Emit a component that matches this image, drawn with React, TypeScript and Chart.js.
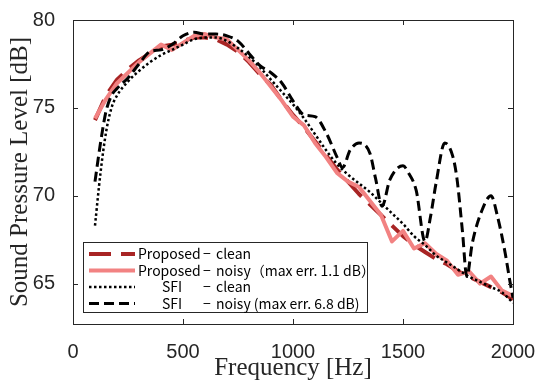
import { useEffect, useRef } from 'react';
import { Chart, registerables } from 'chart.js';

Chart.register(...registerables);

// ---- data ----
const FREQ = [100, 150, 200, 250, 300, 350, 400, 450, 500, 550, 600, 650, 700, 750, 800, 850, 900, 950, 1000, 1050, 1100, 1150, 1200, 1250, 1300, 1350, 1400, 1450, 1500, 1550, 1600, 1650, 1700, 1750, 1800, 1850, 1900, 1950, 2000];

const PROPOSED_CLEAN = [74.3, 75.7, 76.6, 77.2, 77.7, 78.1, 78.5, 78.6, 78.8, 79.0, 79.0, 78.9, 78.6, 78.2, 77.6, 76.9, 76.3, 75.4, 74.6, 73.9, 73.1, 72.3, 71.5, 70.8, 70.1, 69.5, 68.9, 68.3, 67.7, 67.2, 66.8, 66.4, 66.1, 65.7, 65.4, 65.1, 64.8, 64.5, 64.1];

const PROPOSED_NOISY = [74.4, 75.5, 76.4, 77.0, 77.6, 78.1, 78.6, 78.3, 78.7, 79.1, 79.2, 79.0, 78.9, 78.3, 77.7, 77.0, 76.2, 75.4, 74.5, 74.0, 73.0, 72.2, 71.3, 70.8, 70.5, 69.7, 68.9, 67.4, 68.0, 67.0, 67.3, 66.7, 66.3, 65.5, 65.7, 65.0, 65.4, 64.6, 64.3];

const SFI_CLEAN_FREQ = [100, 125, 150, 175, 200, 250, 300, 350, 400, 450, 500, 550, 600, 650, 700, 750, 800, 850, 900, 950, 1000, 1050, 1100, 1150, 1200, 1250, 1300, 1350, 1400, 1450, 1500, 1550, 1600, 1650, 1700, 1750, 1800, 1850, 1900, 1950, 2000];
const SFI_CLEAN = [68.3, 71.3, 73.6, 75.0, 75.7, 76.5, 77.1, 77.6, 78.0, 78.3, 78.6, 78.9, 79.0, 79.0, 78.8, 78.4, 77.9, 77.3, 76.6, 75.9, 75.2, 74.4, 73.5, 72.6, 71.8, 71.2, 70.7, 70.2, 69.6, 69.0, 68.4, 67.7, 67.2, 66.6, 66.2, 65.8, 65.4, 65.1, 64.8, 64.5, 63.9];

const SFI_NOISY_FREQ = [100, 125, 150, 175, 200, 250, 300, 350, 400, 450, 500, 550, 600, 650, 700, 750, 800, 850, 900, 950, 1000, 1050, 1100, 1150, 1200, 1225, 1260, 1300, 1350, 1375, 1405, 1440, 1500, 1525, 1560, 1600, 1625, 1650, 1690, 1725, 1745, 1770, 1790, 1815, 1860, 1900, 1930, 1965, 1985, 2000];
const SFI_NOISY = [70.8, 73.0, 74.8, 75.7, 76.1, 76.7, 77.5, 78.2, 78.3, 78.6, 79.1, 79.3, 79.2, 79.2, 79.1, 78.8, 78.1, 77.4, 77.0, 76.4, 75.4, 74.6, 74.5, 73.6, 72.2, 71.6, 72.6, 73.0, 72.4, 71.0, 69.4, 70.9, 71.7, 71.3, 70.3, 67.4, 68.8, 70.7, 73.0, 72.3, 71.0, 68.0, 65.4, 67.3, 69.2, 70.0, 68.8, 66.7, 65.2, 64.2];

const X_TICKS = [0, 500, 1000, 1500, 2000];
const Y_TICKS = [65, 70, 75, 80];

const LEGEND_NAMES = ['Proposed', 'Proposed', 'SFI', 'SFI'];
const LEGEND_RESTS = ['clean', 'noisy（max err. 1.1 dB）', 'clean', 'noisy (max err. 6.8 dB)'];

const X_TITLE = 'Frequency [Hz]';
const Y_TITLE = 'Sound Pressure Level [dB]';

const COL_DARK = 'rgb(168,36,36)';
const COL_PINK = 'rgb(242,130,130)';
const COL_AXIS = '#262626';

const toPts = (xs: number[], ys: number[]) => xs.map((x, i) => ({ x, y: ys[i] }));

const STYLES = [
  { color: COL_DARK, width: 4, dash: [22, 10] },
  { color: COL_PINK, width: 4, dash: [] as number[] },
  { color: '#000', width: 2.5, dash: [2.5, 2.5] },
  { color: '#000', width: 3, dash: [10, 5] },
];

const framePlugin = {
  id: 'frame',
  afterDatasetsDraw(chart: any) {
    const { ctx, chartArea: a, scales } = chart;
    ctx.save();
    ctx.strokeStyle = COL_AXIS;
    ctx.lineWidth = 1;
    ctx.setLineDash([]);
    ctx.strokeRect(a.left + 0.5, a.top + 0.5, a.right - a.left, a.bottom - a.top);
    const tl = 5;
    ctx.beginPath();
    X_TICKS.forEach((v) => {
      const x = Math.round(scales.x.getPixelForValue(v)) + 0.5;
      ctx.moveTo(x, a.bottom);
      ctx.lineTo(x, a.bottom - tl);
      ctx.moveTo(x, a.top);
      ctx.lineTo(x, a.top + tl);
    });
    Y_TICKS.forEach((v) => {
      const y = Math.round(scales.y.getPixelForValue(v)) + 0.5;
      ctx.moveTo(a.left, y);
      ctx.lineTo(a.left + tl, y);
      ctx.moveTo(a.right, y);
      ctx.lineTo(a.right - tl, y);
    });
    ctx.stroke();
    ctx.restore();
  },
  afterDraw(chart: any) {
    const { ctx, chartArea: a } = chart;
    ctx.save();
    // titles
    ctx.fillStyle = COL_AXIS;
    ctx.font = '25px "Liberation Serif"';
    ctx.textAlign = 'center';
    ctx.textBaseline = 'middle';
    ctx.fillText(X_TITLE, (a.left + a.right) / 2, 368);
    ctx.translate(20, (a.top + a.bottom) / 2);
    ctx.rotate(-Math.PI / 2);
    ctx.fillText(Y_TITLE, 0, 0);
    ctx.restore();

    // legend
    ctx.save();
    const bx = 83, by = 242, bw = 284, bh = 70;
    ctx.fillStyle = '#fff';
    ctx.fillRect(bx, by, bw, bh);
    ctx.strokeStyle = COL_AXIS;
    ctx.lineWidth = 1;
    ctx.strokeRect(bx + 0.5, by + 0.5, bw, bh);
    const rowsY = [254, 270.5, 287, 303.5];
    ctx.font = '14px "Noto Sans CJK JP"';
    ctx.textBaseline = 'middle';
    ctx.textAlign = 'left';
    STYLES.forEach((s, i) => {
      const y = rowsY[i];
      ctx.beginPath();
      ctx.strokeStyle = s.color;
      ctx.lineWidth = s.width;
      ctx.setLineDash(s.dash);
      ctx.lineCap = 'butt';
      ctx.moveTo(89, y);
      ctx.lineTo(135, y);
      ctx.stroke();
      ctx.setLineDash([]);
      ctx.fillStyle = '#000';
      const nx = LEGEND_NAMES[i] === 'SFI' ? 162 : 138;
      ctx.fillText(LEGEND_NAMES[i], nx, y);
      ctx.fillText('−', 203, y);
      ctx.fillText(LEGEND_RESTS[i], 216, y);
    });
    ctx.restore();
  },
};

export default function App() {
  const ref = useRef<HTMLCanvasElement>(null);
  useEffect(() => {
    if (!ref.current) return;
    const mk = (label: string, pts: any[], i: number, order: number, tension: number) => ({
      label,
      data: pts,
      borderColor: STYLES[i].color,
      borderWidth: STYLES[i].width,
      borderDash: STYLES[i].dash,
      borderCapStyle: 'butt',
      borderJoinStyle: 'round',
      pointRadius: 0,
      fill: false,
      tension,
      cubicInterpolationMode: tension > 0 ? 'monotone' : 'default',
      order,
    });
    const chart = new Chart(ref.current, {
      type: 'line',
      data: {
        datasets: [
          mk('Proposed - clean', toPts(FREQ, PROPOSED_CLEAN), 0, 4, 0),
          mk('Proposed - noisy', toPts(FREQ, PROPOSED_NOISY), 1, 3, 0),
          mk('SFI - clean', toPts(SFI_CLEAN_FREQ, SFI_CLEAN), 2, 2, 0.4),
          mk('SFI - noisy', toPts(SFI_NOISY_FREQ, SFI_NOISY), 3, 1, 0.4),
        ] as any,
      },
      options: {
        responsive: false,
        animation: false,
        events: [],
        layout: { padding: { left: 0, right: 24, top: 20, bottom: 0 } },
        plugins: { legend: { display: false }, tooltip: { enabled: false } },
        scales: {
          x: {
            type: 'linear',
            min: 0,
            max: 2000,
            grid: { display: false },
            border: { display: false },
            afterBuildTicks: (s: any) => { s.ticks = X_TICKS.map((v) => ({ value: v })); },
            afterFit: (s: any) => { s.height = 56; s.paddingLeft = 0; s.paddingRight = 0; },
            ticks: {
              color: COL_AXIS,
              font: { family: '"Liberation Sans"', size: 20 },
              padding: 8,
              maxRotation: 0,
              autoSkip: false,
              callback: (v: any) => String(v),
            },
          },
          y: {
            type: 'linear',
            min: 62.7,
            max: 80,
            grid: { display: false },
            border: { display: false },
            afterBuildTicks: (s: any) => { s.ticks = Y_TICKS.map((v) => ({ value: v })); },
            afterFit: (s: any) => { s.width = 73; s.paddingTop = 0; s.paddingBottom = 0; },
            ticks: {
              color: COL_AXIS,
              font: { family: '"Liberation Sans"', size: 20 },
              padding: 10,
              autoSkip: false,
              callback: (v: any) => String(v),
            },
          },
        },
      },
      plugins: [framePlugin],
    });
    return () => chart.destroy();
  }, []);
  return (
    <div style={{ position: 'fixed', left: 0, top: 0, width: 537, height: 380, background: '#fff' }}>
      <canvas ref={ref} width={537} height={380} style={{ width: 537, height: 380 }} />
    </div>
  );
}
